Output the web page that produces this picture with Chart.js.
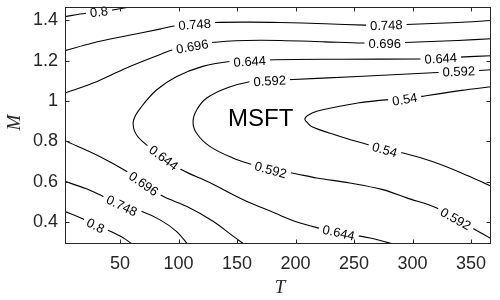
<!DOCTYPE html>
<html>
<head>
<meta charset="utf-8">
<script src="https://cdn.jsdelivr.net/npm/chart.js@4.4.0/dist/chart.umd.min.js"></script>
<style>
  html, body { margin: 0; padding: 0; background: #fff; }
  #wrap { width: 500px; height: 300px; }
</style>
</head>
<body>
<div id="wrap"><canvas id="contour" width="500" height="300"></canvas></div>
<script>
/* ── axis ticks ── */
const tTicks = [50, 100, 150, 200, 250, 300, 350];
const mTicks = [0.4, 0.6, 0.8, 1, 1.2, 1.4];

/* ── contour lines (T, M) ── */
const l800topT = [3, 20.7, 32, 43.8, 56.6];
const l800topM = [1.420, 1.436, 1.444, 1.452, 1.466];

const l748topT = [3, 26.7, 55.7, 83.9, 97.6, 113.8, 131, 160.9, 186.5, 225, 259.1, 276.2, 295, 338.6, 367];
const l748topM = [1.250, 1.288, 1.324, 1.357, 1.374, 1.381, 1.390, 1.392, 1.390, 1.384, 1.377, 1.376, 1.380, 1.390, 1.400];

const l696topT = [3, 26.9, 55.5, 83.9, 95.3, 111.7, 128.1, 158, 186.5, 225, 257.4, 276.2, 293.3, 338.6, 367];
const l696topM = [1.040, 1.089, 1.164, 1.230, 1.255, 1.272, 1.291, 1.301, 1.301, 1.294, 1.288, 1.288, 1.291, 1.301, 1.309];

const l644T = [367, 340.3, 324.1, 307, 239.5, 182.2, 160.9, 142, 120.7, 98.5, 81.4, 68.5, 61.7, 62.6, 69.4, 87.4, 102.7, 126.6, 154.9, 182.2, 199.3, 219, 236.9, 254.9, 267.7, 284.8];
const l644M = [1.225, 1.218, 1.2125, 1.209, 1.2075, 1.205, 1.198, 1.195, 1.172, 1.122, 1.056, 0.973, 0.907, 0.848, 0.798, 0.719, 0.659, 0.595, 0.511, 0.444, 0.403, 0.370, 0.347, 0.329, 0.315, 0.287];

const l592T = [367, 357.4, 339.5, 321.5, 253.2, 193.3, 177.9, 160.9, 141.2, 124.1, 115.6, 112.4, 115.3, 126.7, 146.3, 163.4, 178.8, 196.8, 218.1, 246.3, 274.5, 295, 320.7, 336.9, 353.2, 367];
const l592M = [1.155, 1.152, 1.148, 1.142, 1.122, 1.106, 1.101, 1.096, 1.065, 1.015, 0.957, 0.8975, 0.8415, 0.775, 0.7175, 0.684, 0.659, 0.643, 0.618, 0.593, 0.560, 0.519, 0.469, 0.416, 0.362, 0.317];

const l540T = [367, 341.8, 307.6, 293.3, 279.7, 253.2, 218.1, 210, 207.9, 209.3, 213.6, 233.5, 262, 276.2, 291.9, 316.2, 341.8, 367];
const l540M = [1.071, 1.053, 1.023, 1.009, 1.007, 0.990, 0.949, 0.927, 0.910, 0.8975, 0.874, 0.833, 0.783, 0.759, 0.742, 0.701, 0.643, 0.577];

const l696lowT = [3, 32.6, 55.5, 70.3, 86.8, 106.8, 129.5, 146.6, 156.6];
const l696lowM = [0.803, 0.725, 0.651, 0.590, 0.527, 0.477, 0.403, 0.329, 0.287];

const l748lowT = [3, 21.3, 35.2, 51.5, 68.3, 83.9, 98.2, 108.1];
const l748lowM = [0.601, 0.564, 0.527, 0.481, 0.453, 0.411, 0.353, 0.287];

const l800lowT = [3, 15.6, 29.2, 41.2, 52.3, 61.1];
const l800lowM = [0.451, 0.421, 0.382, 0.354, 0.322, 0.287];

const lineT = [l800topT, l748topT, l696topT, l644T, l592T, l540T, l696lowT, l748lowT, l800lowT];
const lineM = [l800topM, l748topM, l696topM, l644M, l592M, l540M, l696lowM, l748lowM, l800lowM];

/* ── inline level labels ── */
const labelText = ['0.8', '0.748', '0.748', '0.696', '0.696', '0.644', '0.644', '0.644', '0.644',
                   '0.592', '0.592', '0.592', '0.592', '0.54', '0.54', '0.696', '0.748', '0.8'];
const labelT    = [32, 113.8, 277.5, 111.7, 276.2, 324.1, 160.9, 87.4, 236.9,
                   339.5, 177.9, 178.8, 336.9, 293.3, 276.2, 70.3, 51.5, 29.2];
const labelM    = [1.444, 1.381, 1.377, 1.272, 1.288, 1.2125, 1.198, 0.719, 0.347,
                   1.148, 1.101, 0.659, 0.416, 1.009, 0.759, 0.590, 0.481, 0.382];
const labelLine = [0, 1, 1, 2, 2, 3, 3, 3, 3, 4, 4, 4, 4, 5, 5, 6, 7, 8];

const annoText = 'MSFT';
const annoT = 142.3;
const annoM = 0.91;

const axisColor = '#262626';
const tickFont = { family: '"Liberation Sans", Arial, sans-serif', size: 18 };

/* ── contour labels: rotated along the line, white box behind ── */
function segDist(px, py, a, b) {
  const dx = b.x - a.x, dy = b.y - a.y;
  const len = dx * dx + dy * dy || 1;
  let t = ((px - a.x) * dx + (py - a.y) * dy) / len;
  t = Math.max(0, Math.min(1, t));
  const qx = a.x + t * dx, qy = a.y + t * dy;
  return (qx - px) ** 2 + (qy - py) ** 2;
}

const contourLabels = {
  id: 'contourLabels',
  afterDatasetsDraw(chart) {
    const { ctx, scales: { x, y } } = chart;
    ctx.save();
    ctx.font = '13px "Liberation Sans", Arial, sans-serif';
    ctx.textAlign = 'center';
    ctx.textBaseline = 'middle';
    labelText.forEach((txt, i) => {
      const px = x.getPixelForValue(labelT[i]);
      const py = y.getPixelForValue(labelM[i]);
      const pts = chart.getDatasetMeta(labelLine[i]).data;
      let best = Infinity, ang = 0;
      for (let k = 0; k < pts.length - 1; k++) {
        const d = segDist(px, py, pts[k], pts[k + 1]);
        if (d < best) {
          best = d;
          ang = Math.atan2(pts[k + 1].y - pts[k].y, pts[k + 1].x - pts[k].x);
        }
      }
      if (ang > Math.PI / 2) ang -= Math.PI;
      if (ang < -Math.PI / 2) ang += Math.PI;
      const w = ctx.measureText(txt).width;
      ctx.save();
      ctx.translate(px, py);
      ctx.rotate(ang);
      ctx.fillStyle = '#fff';
      ctx.fillRect(-w / 2 - 4, -6, w + 8, 12);
      ctx.fillStyle = '#000';
      ctx.fillText(txt, 0, 1);
      ctx.restore();
    });

    ctx.font = '24px "Liberation Sans", Arial, sans-serif';
    ctx.textAlign = 'left';
    ctx.fillStyle = '#000';
    ctx.fillText(annoText, x.getPixelForValue(annoT), y.getPixelForValue(annoM));
    ctx.restore();
  }
};

/* ── MATLAB style box with inward ticks and axis titles ── */
const matlabBox = {
  id: 'matlabBox',
  afterDraw(chart) {
    const { ctx, chartArea: a, scales: { x, y } } = chart;
    const L = Math.round(a.left) + 0.5, R = Math.round(a.right) - 0.5;
    const T = Math.round(a.top) + 0.5, B = Math.round(a.bottom) - 0.5;
    const len = 4;
    ctx.save();
    ctx.strokeStyle = axisColor;
    ctx.lineWidth = 1;
    ctx.strokeRect(L, T, R - L, B - T);
    ctx.beginPath();
    tTicks.forEach(v => {
      const px = Math.round(x.getPixelForValue(v)) + 0.5;
      ctx.moveTo(px, B); ctx.lineTo(px, B - len);
      ctx.moveTo(px, T); ctx.lineTo(px, T + len);
    });
    mTicks.forEach(v => {
      const py = Math.round(y.getPixelForValue(v)) + 0.5;
      ctx.moveTo(L, py); ctx.lineTo(L + len, py);
      ctx.moveTo(R, py); ctx.lineTo(R - len, py);
    });
    ctx.stroke();

    ctx.fillStyle = axisColor;
    ctx.font = 'italic 19px "Liberation Serif", "Times New Roman", serif';
    ctx.textAlign = 'center';
    ctx.textBaseline = 'middle';
    ctx.fillText('T', (a.left + a.right) / 2 + 2, 288);
    ctx.translate(15, (a.top + a.bottom) / 2 - 3);
    ctx.rotate(-Math.PI / 2);
    ctx.fillText('M', 0, 0);
    ctx.restore();
  }
};

const datasets = lineT.map((ts, i) => ({
  data: ts.map((t, k) => ({ x: t, y: lineM[i][k] })),
  showLine: true,
  borderColor: '#000',
  borderWidth: 1.1,
  pointRadius: 0,
  tension: 0.35,
  fill: false
}));

new Chart(document.getElementById('contour'), {
  type: 'scatter',
  data: { datasets },
  options: {
    responsive: false,
    animation: false,
    events: [],
    layout: { padding: { top: 7, right: 9, left: 0, bottom: 0 } },
    plugins: { legend: { display: false }, tooltip: { enabled: false } },
    scales: {
      x: {
        type: 'linear',
        min: 3,
        max: 367,
        afterFit: s => { s.height = 56; s.paddingLeft = 0; s.paddingRight = 0; },
        afterBuildTicks: s => { s.ticks = tTicks.map(v => ({ value: v })); },
        grid: { display: false, drawTicks: false },
        border: { display: false },
        ticks: { font: tickFont, color: axisColor, padding: 9, maxRotation: 0, autoSkip: false }
      },
      y: {
        type: 'linear',
        min: 0.29,
        max: 1.467,
        afterFit: s => { s.width = 65; s.paddingTop = 0; s.paddingBottom = 0; },
        afterBuildTicks: s => { s.ticks = mTicks.map(v => ({ value: v })); },
        grid: { display: false, drawTicks: false },
        border: { display: false },
        ticks: {
          font: tickFont, color: axisColor, padding: 7, autoSkip: false,
          callback: v => String(+v.toFixed(1))
        }
      }
    }
  },
  plugins: [contourLabels, matlabBox]
});
</script>
</body>
</html>
